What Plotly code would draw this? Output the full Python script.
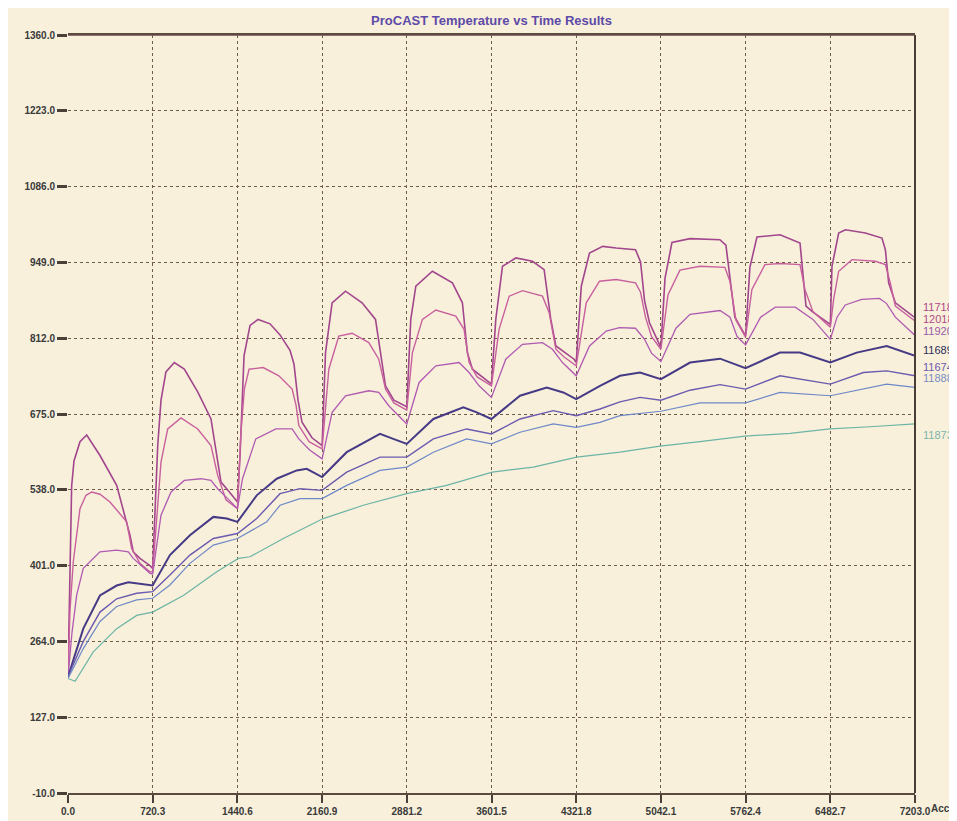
import plotly.graph_objects as go

# ---------------- data ----------------
title = "ProCAST Temperature vs Time Results"
y_ticks = [-10.0, 127.0, 264.0, 401.0, 538.0, 675.0, 812.0, 949.0, 1086.0, 1223.0, 1360.0]
x_ticks = [0.0, 720.3, 1440.6, 2160.9, 2881.2, 3601.5, 4321.8, 5042.1, 5762.4, 6482.7, 7203.0]

node_names = ["117182", "120182", "119203", "116894", "116747", "118887", "118736"]

s1_t = [0, 17, 31, 51, 102, 159, 272, 414, 527, 555, 612, 697,
        720, 763, 791, 833, 904, 989, 1103, 1216, 1273, 1301, 1369,
        1441, 1463, 1497, 1548, 1616, 1718, 1803, 1888, 1922, 1956, 1990, 2075,
        2161, 2190, 2246, 2360, 2501, 2615, 2658, 2700, 2771,
        2881, 2915, 2958, 3099, 3269, 3354, 3396, 3439, 3581,
        3601, 3638, 3695, 3808, 3950, 4049, 4106, 4149, 4304,
        4322, 4365, 4435, 4548, 4662, 4826, 4869, 4903, 4945,
        5042, 5077, 5136, 5289, 5544, 5595, 5629, 5671,
        5762, 5799, 5859, 6055, 6225, 6250, 6276, 6335,
        6483, 6497, 6554, 6611, 6781, 6922, 6951, 6979, 7036, 7203]
s1_v = [200, 380, 545, 590, 625, 637, 600, 546, 456, 426, 414, 401,
        396, 618, 700, 751, 768, 756, 715, 666, 588, 552, 535,
        516, 600, 780, 835, 846, 838, 818, 790, 765, 700, 660, 632,
        618, 786, 876, 897, 876, 846, 786, 726, 700,
        688, 846, 906, 933, 912, 876, 786, 756, 732,
        729, 846, 942, 957, 951, 936, 846, 798, 774,
        768, 906, 966, 978, 975, 972, 950, 880, 840,
        795, 920, 985, 992, 990, 980, 920, 850,
        816, 940, 995, 999, 984, 930, 870, 859,
        837, 942, 1002, 1008, 1002, 993, 972, 912, 876, 849]

s2_t = [0, 17, 45, 102, 153, 202, 272, 357, 499, 541, 612, 697,
        720, 791, 848, 961, 1103, 1216, 1273, 1343,
        1441, 1470, 1500, 1540, 1660, 1793, 1906, 1940, 1963, 2050,
        2161, 2218, 2303, 2416, 2558, 2643, 2700, 2771,
        2881, 2929, 3014, 3128, 3298, 3368, 3411, 3479,
        3601, 3666, 3752, 3865, 4035, 4092, 4149, 4219,
        4322, 4407, 4520, 4662, 4826, 4869, 4911, 4962,
        5042, 5102, 5204, 5374, 5586, 5629, 5680,
        5762, 5816, 5927, 6055, 6225, 6267, 6335,
        6483, 6511, 6554, 6667, 6866, 6951, 6993, 7036, 7203]
s2_v = [200, 320, 408, 504, 528, 534, 530, 516, 480, 432, 405, 390,
        390, 588, 648, 668, 648, 618, 564, 520,
        504, 640, 720, 756, 759, 744, 720, 690, 654, 625,
        612, 756, 816, 821, 804, 774, 720, 695,
        682, 786, 846, 863, 852, 828, 768, 742,
        726, 828, 888, 898, 888, 858, 792, 778,
        762, 876, 915, 918, 912, 895, 850, 815,
        792, 890, 935, 942, 940, 915, 845,
        814, 900, 945, 947, 945, 900, 860,
        832, 882, 933, 954, 951, 945, 912, 870, 843]

s3_t = [0, 34, 74, 130, 272, 414, 513, 555, 697,
        720, 791, 876, 989, 1131, 1216, 1273, 1358,
        1441, 1484, 1597, 1768, 1906, 1963, 2055,
        2161, 2246, 2360, 2558, 2643, 2728,
        2881, 2986, 3128, 3326, 3411, 3496,
        3601, 3723, 3865, 4035, 4120, 4205,
        4322, 4435, 4577, 4690, 4826, 4903, 4962,
        5042, 5170, 5290, 5545, 5630, 5690,
        5762, 5890, 6015, 6185, 6250, 6335,
        6483, 6540, 6610, 6750, 6900, 6960, 7036, 7203]
s3_v = [200, 280, 348, 396, 426, 429, 426, 414, 387,
        386, 492, 534, 555, 558, 555, 540, 522,
        504, 558, 630, 648, 648, 630, 610,
        594, 678, 708, 717, 714, 690,
        657, 732, 762, 768, 750, 726,
        705, 774, 801, 804, 792, 768,
        744, 798, 825, 831, 830, 810, 785,
        770, 830, 855, 862, 850, 815,
        800, 850, 868, 868, 858, 846,
        810, 850, 872, 882, 884, 875, 850, 817]

s4_t = [0, 130, 272, 414, 513, 720, 867, 1037, 1236, 1350, 1441, 1605, 1775, 1945,
        2030, 2161, 2370, 2653, 2766, 2881, 3107, 3362, 3476, 3601, 3844, 4071, 4212,
        4322, 4524, 4694, 4864, 5042, 5290, 5545, 5762, 6055, 6225, 6483, 6707, 6962, 7203]
s4_v = [200, 287, 347, 365, 371, 365, 420, 456, 489, 486, 480, 528, 558, 573,
        576, 561, 606, 639, 630, 621, 666, 687, 678, 666, 708, 723, 714,
        702, 726, 744, 750, 738, 768, 775, 758, 786, 786, 768, 786, 798, 780]

s5_t = [0, 130, 272, 414, 584, 720, 867, 1037, 1236, 1441, 1605, 1803, 1973, 2161,
        2370, 2653, 2881, 3107, 3390, 3601, 3844, 4127, 4322, 4524, 4694, 4864, 5042,
        5290, 5545, 5762, 6055, 6483, 6764, 6962, 7203]
s5_v = [200, 264, 317, 341, 351, 354, 384, 420, 450, 459, 486, 531, 540, 537,
        570, 597, 597, 630, 648, 639, 666, 681, 672, 684, 697, 705, 700,
        718, 728, 720, 744, 729, 750, 753, 744]

s6_t = [0, 130, 272, 414, 584, 720, 867, 1037, 1236, 1441, 1690, 1803, 1973, 2161,
        2370, 2653, 2881, 3107, 3390, 3601, 3844, 4127, 4322, 4524, 4694, 5042, 5375,
        5762, 6055, 6483, 6962, 7203]
s6_v = [197, 251, 300, 327, 339, 342, 366, 405, 438, 450, 480, 510, 522, 522,
        546, 573, 579, 606, 630, 621, 642, 657, 651, 660, 672, 680, 695,
        695, 714, 708, 729, 723]

s7_t = [0, 60, 215, 414, 584, 720, 981, 1265, 1449, 1548, 1831, 1973, 2171, 2511,
        2880, 3220, 3608, 3957, 4326, 4694, 5034, 5375, 5757, 6140, 6480, 6820, 7203]
s7_v = [197, 192, 245, 287, 311, 317, 347, 390, 414, 417, 450, 465, 486, 510,
        531, 546, 570, 579, 597, 606, 617, 625, 635, 640, 648, 652, 657]

# label positions (temperature at which each end label sits)
label_y = [868, 846, 825, 790, 760, 740, 637]

# ---------------- styling ----------------
colors = ["#a2468e", "#c8609e", "#b05ab2", "#463a86", "#6a5ab0", "#6e88c8", "#6cb4a6"]
widths = [1.6, 1.4, 1.3, 2.0, 1.4, 1.2, 1.2]
label_colors = ["#b0488a", "#b04a86", "#9a5aa8", "#2e2e5a", "#6a5ab0", "#7a8cc4", "#7ab4aa"]

series = [(s1_t, s1_v), (s2_t, s2_v), (s3_t, s3_v), (s4_t, s4_v),
          (s5_t, s5_v), (s6_t, s6_v), (s7_t, s7_v)]

fig = go.Figure()
for i, (t, v) in enumerate(series):
    fig.add_trace(go.Scatter(x=t, y=v, mode="lines", name=node_names[i],
                             line=dict(color=colors[i], width=widths[i]),
                             showlegend=False, hoverinfo="skip"))

paper = "#f8f0da"
grid = "#6e5c44"
font_fam = "Arial, Liberation Sans, sans-serif"

fig.update_layout(
    width=957, height=821,
    margin=dict(l=60, r=50, t=27, b=34),
    paper_bgcolor=paper, plot_bgcolor=paper,
    title=dict(text="<b>" + title + "</b>", x=0.5, xref="paper", xanchor="center",
               y=1, yref="container", yanchor="top", pad=dict(t=8),
               font=dict(family=font_fam, size=13, color="#5e4aa8")),
    font=dict(family=font_fam),
)

fig.update_xaxes(range=[0, 7203], tickvals=x_ticks,
                 ticktext=["<b>%.1f</b>" % v for v in x_ticks],
                 tickfont=dict(size=10, color="#3a3a3a"),
                 ticks="outside", ticklen=8, tickwidth=2, tickcolor="#4a4038",
                 showgrid=True, gridcolor=grid, griddash="dot", gridwidth=1,
                 showline=True, linecolor="#5a4a40", linewidth=1.5, mirror=True,
                 zeroline=False)
fig.update_yaxes(range=[-10, 1360], tickvals=y_ticks,
                 ticktext=["<b>%.1f</b>" % v for v in y_ticks],
                 tickfont=dict(size=10, color="#3a3a3a"),
                 ticks="outside", ticklen=10, tickwidth=2.5, tickcolor="#4a4038",
                 showgrid=True, gridcolor=grid, griddash="dot", gridwidth=1,
                 showline=False, zeroline=False)

# right border
fig.add_shape(type="line", xref="paper", yref="paper", x0=1, x1=1, y0=0, y1=1,
              line=dict(color="#4a3c36", width=2))
# top border
fig.add_shape(type="line", xref="paper", yref="paper", x0=0, x1=1, y0=1, y1=1,
              line=dict(color="#6a4a48", width=1.5))

for i, name in enumerate(node_names):
    fig.add_annotation(x=1, xref="paper", y=label_y[i], yref="y", text=name,
                       showarrow=False, xanchor="left", xshift=6,
                       font=dict(family=font_fam, size=11, color=label_colors[i]))

fig.add_annotation(x=1, xref="paper", y=0, yref="paper", text="<b>Acc</b>",
                   showarrow=False, xanchor="left", yanchor="top", xshift=14, yshift=-8,
                   font=dict(family=font_fam, size=10, color="#3a3a3a"))

fig.write_html("out.html")
